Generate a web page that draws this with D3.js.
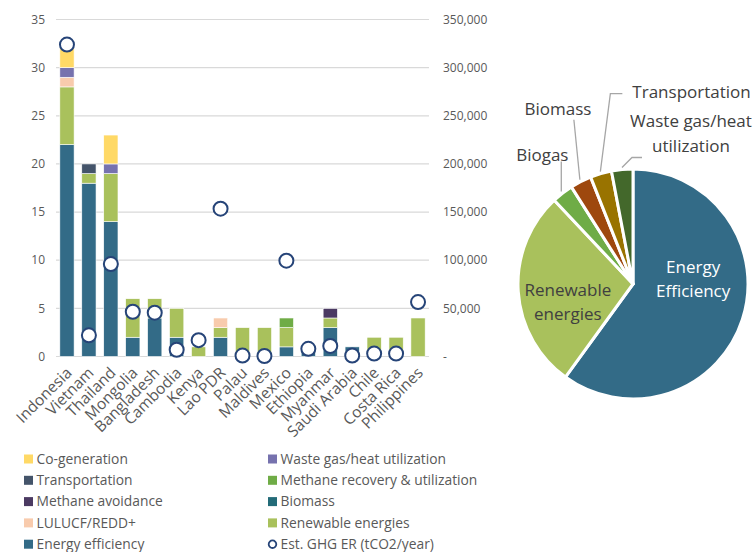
<!DOCTYPE html>
<meta charset="utf-8">
<script src="https://d3js.org/d3.v7.min.js"></script>
<style>
  body { margin: 0; background: #fff; }
  text { font-family: "Open Sans", "Noto Sans", sans-serif; }
</style>
<div id="chart"></div>
<script>
// data
var countries = ["Indonesia", "Vietnam", "Thailand", "Mongolia", "Bangladesh", "Cambodia", "Kenya", "Lao PDR",
  "Palau", "Maldives", "Mexico", "Ethiopia", "Myanmar", "Saudi Arabia", "Chile", "Costa Rica", "Philippines"];
var energyEfficiency = [22, 18, 14, 2, 4, 2, 0, 2, 0, 0, 1, 1, 3, 1, 0, 0, 0];
var renewableEnergies = [6, 1, 5, 4, 2, 3, 1, 1, 3, 3, 2, 0, 1, 0, 2, 2, 4];
var lulucf = [1, 0, 0, 0, 0, 0, 0, 1, 0, 0, 0, 0, 0, 0, 0, 0, 0];
var biomass = [0, 0, 0, 0, 0, 0, 0, 0, 0, 0, 0, 0, 0, 0, 0, 0, 0];
var methaneAvoidance = [0, 0, 0, 0, 0, 0, 0, 0, 0, 0, 0, 0, 1, 0, 0, 0, 0];
var methaneRecovery = [0, 0, 0, 0, 0, 0, 0, 0, 0, 0, 1, 0, 0, 0, 0, 0, 0];
var transportation = [0, 1, 0, 0, 0, 0, 0, 0, 0, 0, 0, 0, 0, 0, 0, 0, 0];
var wasteGas = [1, 0, 1, 0, 0, 0, 0, 0, 0, 0, 0, 0, 0, 0, 0, 0, 0];
var cogeneration = [2, 0, 3, 0, 0, 0, 0, 0, 0, 0, 0, 0, 0, 0, 0, 0, 0];
var ghgER = [324000, 22000, 96000, 46500, 45500, 7000, 17000, 153500, 1000, 500, 99500, 8000, 11000, 1000, 3000, 3000, 56500];

var leftTicks = [0, 5, 10, 15, 20, 25, 30, 35];
var rightTicks = [0, 50000, 100000, 150000, 200000, 250000, 300000, 350000];

var pieLabels = ["Energy Efficiency", "Renewable energies", "Biogas", "Biomass", "Transportation", "Waste gas/heat utilization"];
var pieValues = [60, 28, 3, 3, 3, 3];

// series, bottom to top
var series = [
  { name: "Energy efficiency", values: energyEfficiency, color: "#336b87" },
  { name: "Renewable energies", values: renewableEnergies, color: "#a9c15c" },
  { name: "LULUCF/REDD+", values: lulucf, color: "#f8cbad" },
  { name: "Biomass", values: biomass, color: "#236b78" },
  { name: "Methane avoidance", values: methaneAvoidance, color: "#4b3a62" },
  { name: "Methane recovery & utilization", values: methaneRecovery, color: "#6fac46" },
  { name: "Transportation", values: transportation, color: "#44546a" },
  { name: "Waste gas/heat utilization", values: wasteGas, color: "#7672ae" },
  { name: "Co-generation", values: cogeneration, color: "#ffd966" }
];
var legendOrder = ["Co-generation", "Waste gas/heat utilization", "Transportation", "Methane recovery & utilization",
  "Methane avoidance", "Biomass", "LULUCF/REDD+", "Renewable energies", "Energy efficiency"];

var width = 754, height = 552;
var svg = d3.select("#chart").append("svg").attr("width", width).attr("height", height);

var x = d3.scaleBand().domain(countries).range([56, 429]).paddingInner(0.35).paddingOuter(0.175);
var y = d3.scaleLinear().domain([0, 35]).range([356.5, 19.5]);
var y2 = d3.scaleLinear().domain([0, 350000]).range([356.5, 19.5]);

// gridlines
svg.append("g").selectAll("line").data(leftTicks).enter().append("line")
  .attr("x1", 56).attr("x2", 429)
  .attr("y1", function (d) { return y(d); }).attr("y2", function (d) { return y(d); })
  .attr("stroke", "#d9d9d9").attr("stroke-width", 1.2);

// left axis labels
svg.append("g").selectAll("text").data(leftTicks).enter().append("text")
  .attr("x", 45).attr("y", function (d) { return y(d); }).attr("dy", "0.35em")
  .attr("text-anchor", "end").attr("font-size", 12).attr("fill", "#595959")
  .text(function (d) { return d; });

// right axis labels
svg.append("g").selectAll("text").data(rightTicks).enter().append("text")
  .attr("x", 443).attr("y", function (d) { return y2(d); }).attr("dy", "0.35em")
  .attr("font-size", 12).attr("fill", "#595959")
  .text(function (d) { return d === 0 ? "-" : d3.format(",")(d); });

// stacked bars
var table = countries.map(function (c, i) {
  var row = { country: c };
  series.forEach(function (s) { row[s.name] = s.values[i]; });
  return row;
});
var stack = d3.stack().keys(series.map(function (s) { return s.name; }));
var stacked = stack(table);

svg.append("g").selectAll("g").data(stacked).enter().append("g")
  .attr("fill", function (d, i) { return series[i].color; })
  .selectAll("rect").data(function (d) { return d; }).enter().append("rect")
  .filter(function (d) { return d[1] > d[0]; })
  .attr("x", function (d) { return x(d.data.country); })
  .attr("width", x.bandwidth())
  .attr("y", function (d) { return y(d[1]); })
  .attr("height", function (d) { return y(d[0]) - y(d[1]); })
  .attr("stroke", "#fff").attr("stroke-width", 0.6);

// GHG markers
svg.append("g").selectAll("circle").data(ghgER).enter().append("circle")
  .attr("cx", function (d, i) { return x(countries[i]) + x.bandwidth() / 2; })
  .attr("cy", function (d) { return y2(d); })
  .attr("r", 7)
  .attr("fill", "#fff").attr("stroke", "#264478").attr("stroke-width", 2);

// country labels
svg.append("g").selectAll("text").data(countries).enter().append("text")
  .attr("transform", function (d) {
    return "translate(" + (x(d) + x.bandwidth() / 2 + 2) + ",370) rotate(-45)";
  })
  .attr("text-anchor", "end").attr("dy", "0.35em")
  .attr("font-size", 15.5).attr("fill", "#595959")
  .text(function (d) { return d; });

// legend
var legendItems = legendOrder.map(function (n) {
  return series.filter(function (s) { return s.name === n; })[0];
});
legendItems.push({ name: "Est. GHG ER (tCO2/year)", marker: true });
var lg = svg.append("g").selectAll("g").data(legendItems).enter().append("g")
  .attr("transform", function (d, i) {
    return "translate(" + (i % 2 === 0 ? 24 : 268) + "," + (459 + Math.floor(i / 2) * 21.3) + ")";
  });
lg.each(function (d) {
  var g = d3.select(this);
  if (d.marker) {
    g.append("circle").attr("cx", 4.5).attr("cy", 0).attr("r", 3.8)
      .attr("fill", "#fff").attr("stroke", "#264478").attr("stroke-width", 1.8);
  } else {
    g.append("rect").attr("x", 0).attr("y", -4.5).attr("width", 9).attr("height", 9).attr("fill", d.color);
  }
  g.append("text").attr("x", 12.5).attr("dy", "0.35em")
    .attr("font-size", 13.8).attr("fill", "#595959").text(d.name);
});

// pie
var cx = 633, cy = 284, radius = 115;
var pieColors = ["#336b87", "#a9c15c", "#6fac46", "#9e480e", "#997300", "#43682b"];
var pie = d3.pie().sort(null).value(function (d) { return d; });
var arcs = pie(pieValues);
var arc = d3.arc().innerRadius(0).outerRadius(radius);
var pg = svg.append("g").attr("transform", "translate(" + cx + "," + cy + ")");
pg.selectAll("path").data(arcs).enter().append("path")
  .attr("d", arc)
  .attr("fill", function (d, i) { return pieColors[i]; })
  .attr("stroke", "#fff").attr("stroke-width", 3).attr("stroke-linejoin", "round");

// inside labels
var inner = d3.arc().innerRadius(radius * 0.55).outerRadius(radius * 0.55);
var insideLines = [["Energy", "Efficiency"], ["Renewable", "energies"]];
var insideShift = [[0, -31], [-2, 8]];
[0, 1].forEach(function (i) {
  var c = inner.centroid(arcs[i]);
  var t = pg.append("text").attr("text-anchor", "middle")
    .attr("font-size", 17).attr("fill", i === 0 ? "#fff" : "#404040");
  insideLines[i].forEach(function (line, k) {
    t.append("tspan").attr("x", c[0] + insideShift[i][0])
      .attr("y", c[1] + insideShift[i][1] + k * 24.5).text(line);
  });
});

// outside labels with leader lines: elbow and label position relative to slice edge
var outside = [
  { i: 2, path: [[0, -30]], label: [-19, -37], lines: ["Biogas"], anchor: "middle" },
  { i: 3, path: [[-6, -60]], label: [-22, -71], lines: ["Biomass"], anchor: "middle" },
  { i: 4, path: [[10, -78], [22, -78]], label: [32, -80], lines: ["Transportation"], anchor: "start" },
  { i: 5, path: [[10, -10], [20, -10]], label: [69, -46], lines: ["Waste gas/heat", "utilization"], anchor: "middle" }
];
var edge = d3.arc().innerRadius(radius + 2).outerRadius(radius + 2);
outside.forEach(function (o) {
  var p0 = edge.centroid(arcs[o.i]);
  var pts = [p0].concat(o.path.map(function (p) { return [p0[0] + p[0], p0[1] + p[1]]; }));
  pg.append("polyline").attr("points", pts.join(" "))
    .attr("fill", "none").attr("stroke", "#a6a6a6").attr("stroke-width", 1.3);
  var t = pg.append("text").attr("text-anchor", o.anchor).attr("font-size", 17).attr("fill", "#404040");
  o.lines.forEach(function (line, k) {
    t.append("tspan").attr("x", p0[0] + o.label[0]).attr("y", p0[1] + o.label[1] + k * 24.5)
      .attr("dy", "0.35em").text(line);
  });
});
</script>
